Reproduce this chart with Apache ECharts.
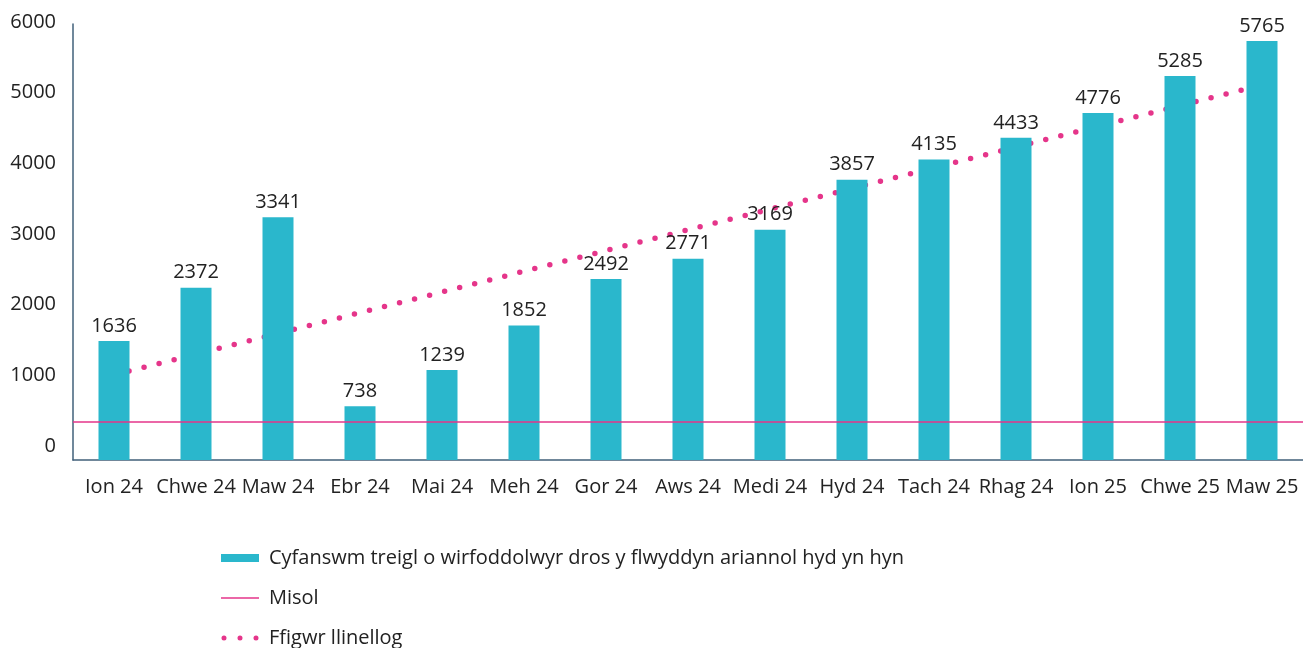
<!DOCTYPE html>
<html>
<head>
<meta charset="utf-8">
<script src="https://cdn.jsdelivr.net/npm/echarts@6/dist/echarts.min.js"></script>
<style>
  html, body { margin: 0; padding: 0; background: #ffffff; }
  #main { width: 1303px; height: 648px; }
</style>
</head>
<body>
<div id="main"></div>
<script>
// misoedd
const months = ["Ion 24", "Chwe 24", "Maw 24", "Ebr 24", "Mai 24", "Meh 24", "Gor 24", "Aws 24",
  "Medi 24", "Hyd 24", "Tach 24", "Rhag 24", "Ion 25", "Chwe 25", "Maw 25"];
// cyfanswm treigl
const totals = [1636, 2372, 3341, 738, 1239, 1852, 2492, 2771, 3169, 3857, 4135, 4433, 4776, 5285, 5765];
// llinell duedd (darllenwyd o'r llun)
const trend = [1172, 1457, 1742, 2027, 2312, 2597, 2882, 3167, 3452, 3737, 4022, 4307, 4592, 4877, 5162];
// lefel y llinell fisol
const misolLevel = 525;
const yTicks = [0, 1000, 2000, 3000, 4000, 5000, 6000];

const barName = "Cyfanswm treigl o wirfoddolwyr dros y flwyddyn ariannol hyd yn hyn";
const misolName = "Misol";
const trendName = "Ffigwr llinellog";

const blue = "#2ab7cc";
const pink = "#e5358a";
const font = "'Open Sans', 'Noto Sans', sans-serif";

let chart = echarts.init(document.getElementById("main"));
chart.setOption({
  animation: false,
  textStyle: { fontFamily: font },
  // grid 0: y data; grid 1: dim ond labeli'r echel y (maen nhw ychydig yn uwch yn y gwreiddiol)
  grid: [
    { left: 73, right: 0, top: 24, bottom: 188 },
    { left: 73, right: 0, top: 22, bottom: 202 },
  ],
  legend: {
    orient: "vertical",
    left: 221,
    top: 548,
    height: 140,
    padding: 0,
    itemWidth: 38,
    itemHeight: 8,
    itemGap: 20,
    textStyle: { fontSize: 20, color: "#222", lineHeight: 20, padding: [0, 0, 0, 5], fontFamily: font },
    data: [
      { name: barName, icon: "rect" },
      { name: misolName, icon: "path://M0,0 M38,8 M0,3.3 L38,3.3 L38,4.7 L0,4.7 Z" },
      { name: trendName, icon: "path://M0,0 M38,8 M0.5,4 a2.5,2.5 0 1,0 5,0 a2.5,2.5 0 1,0 -5,0 M16.5,4 a2.5,2.5 0 1,0 5,0 a2.5,2.5 0 1,0 -5,0 M32.5,4 a2.5,2.5 0 1,0 5,0 a2.5,2.5 0 1,0 -5,0 Z" },
    ],
  },
  xAxis: [
    {
      type: "category",
      data: months,
      gridIndex: 0,
      axisLine: { lineStyle: { color: "#41607a", width: 1.5 } },
      axisTick: { show: false },
      axisLabel: { interval: 0, fontSize: 20, color: "#222", margin: 17 },
    },
    { type: "category", data: months, gridIndex: 1, show: false },
  ],
  yAxis: [
    {
      type: "value",
      gridIndex: 0,
      min: yTicks[0],
      max: yTicks[yTicks.length - 1],
      interval: 1000,
      splitLine: { show: false },
      axisLine: { show: true, lineStyle: { color: "#41607a", width: 1.5 } },
      axisTick: { show: false },
      axisLabel: { show: false },
    },
    {
      type: "value",
      gridIndex: 1,
      min: yTicks[0],
      max: yTicks[yTicks.length - 1],
      interval: 1000,
      splitLine: { show: false },
      axisLine: { show: false },
      axisTick: { show: false },
      axisLabel: { fontSize: 20, color: "#222", margin: 17, formatter: (v) => String(v) },
    },
  ],
  series: [
    {
      name: trendName,
      type: "line",
      data: trend,
      z: 1,
      color: pink,
      symbol: "none",
      lineStyle: { color: pink, width: 5.5, type: [0, 15.5], cap: "round" },
    },
    {
      name: barName,
      type: "bar",
      data: totals,
      z: 2,
      barWidth: 31,
      itemStyle: { color: blue },
      label: { show: true, position: "top", distance: 5, fontSize: 20, color: "#222" },
    },
    {
      name: misolName,
      type: "line",
      data: [],
      z: 3,
      color: pink,
      markLine: {
        silent: true,
        symbol: "none",
        label: { show: false },
        lineStyle: { color: pink, type: "solid", width: 1.5 },
        data: [{ yAxis: misolLevel }],
      },
    },
  ],
});
</script>
</body>
</html>
